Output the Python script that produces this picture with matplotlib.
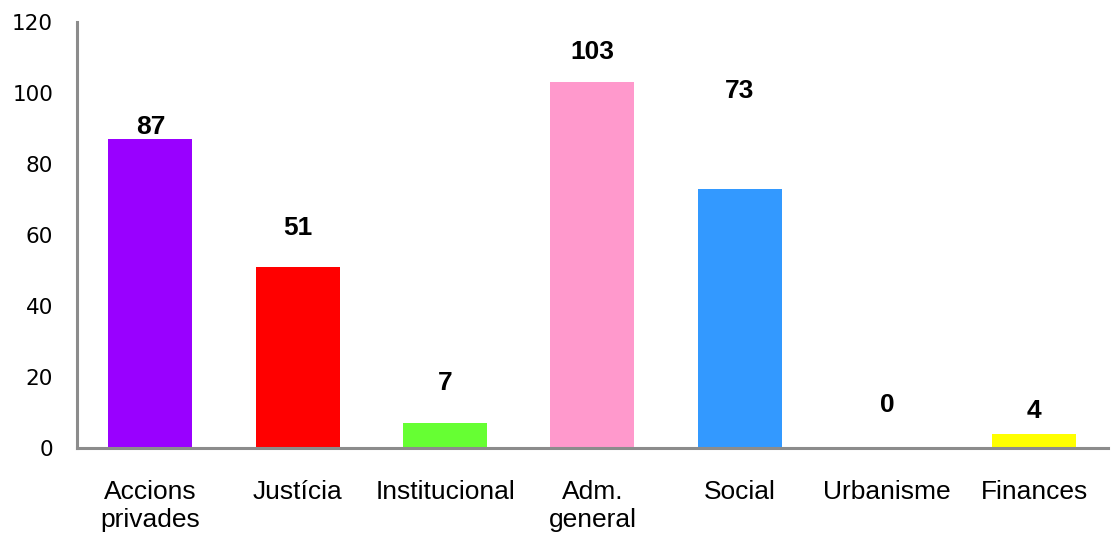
import numpy as np
from matplotlib import pyplot as plt

categories = ["Accions\nprivades", "Justícia", "Institucional", "Adm.\ngeneral", "Social", "Urbanisme", "Finances"]
values = [87, 51, 7, 103, 73, 0, 4]
colors = ["#9900FF", "#FF0000", "#66FF33", "#FF99CC", "#3399FF", "#996633", "#FFFF00"]
# heights where the value labels sit (as in the original, not uniform)
label_pos = [90.4, 62, 18.3, 111.5, 100.6, 12.1, 10.4]
yticks = [0, 20, 40, 60, 80, 100, 120]

fig = plt.figure(figsize=(11.13, 5.36), dpi=100)
ax = fig.add_axes([0.069, 0.164, 0.9265, 0.795])

x = np.arange(len(categories))
ax.bar(x, values, width=0.57, color=colors)

for i in range(len(values)):
    ax.text(x[i], label_pos[i], str(values[i]), ha="center", va="center",
            fontsize=19, fontweight="bold", family=["Liberation Sans Narrow", "Liberation Sans"])

ax.set_xlim(-0.5, len(categories) - 0.5)
ax.set_ylim(0, 120)
ax.set_yticks(yticks)
ax.set_xticks(x)
ax.set_xticklabels(categories, fontsize=19, family="Liberation Sans", linespacing=1.2)
for lab in ax.get_yticklabels():
    lab.set_fontsize(15.5)
    lab.set_family("DejaVu Sans")
ax.tick_params(axis="y", length=0, pad=17)
ax.tick_params(axis="x", length=0, pad=23)

for s in ["top", "right"]:
    ax.spines[s].set_visible(False)
for s in ["left", "bottom"]:
    ax.spines[s].set_color("#8c8c8c")
    ax.spines[s].set_linewidth(2.2)

fig.savefig("out.png", dpi=100)
